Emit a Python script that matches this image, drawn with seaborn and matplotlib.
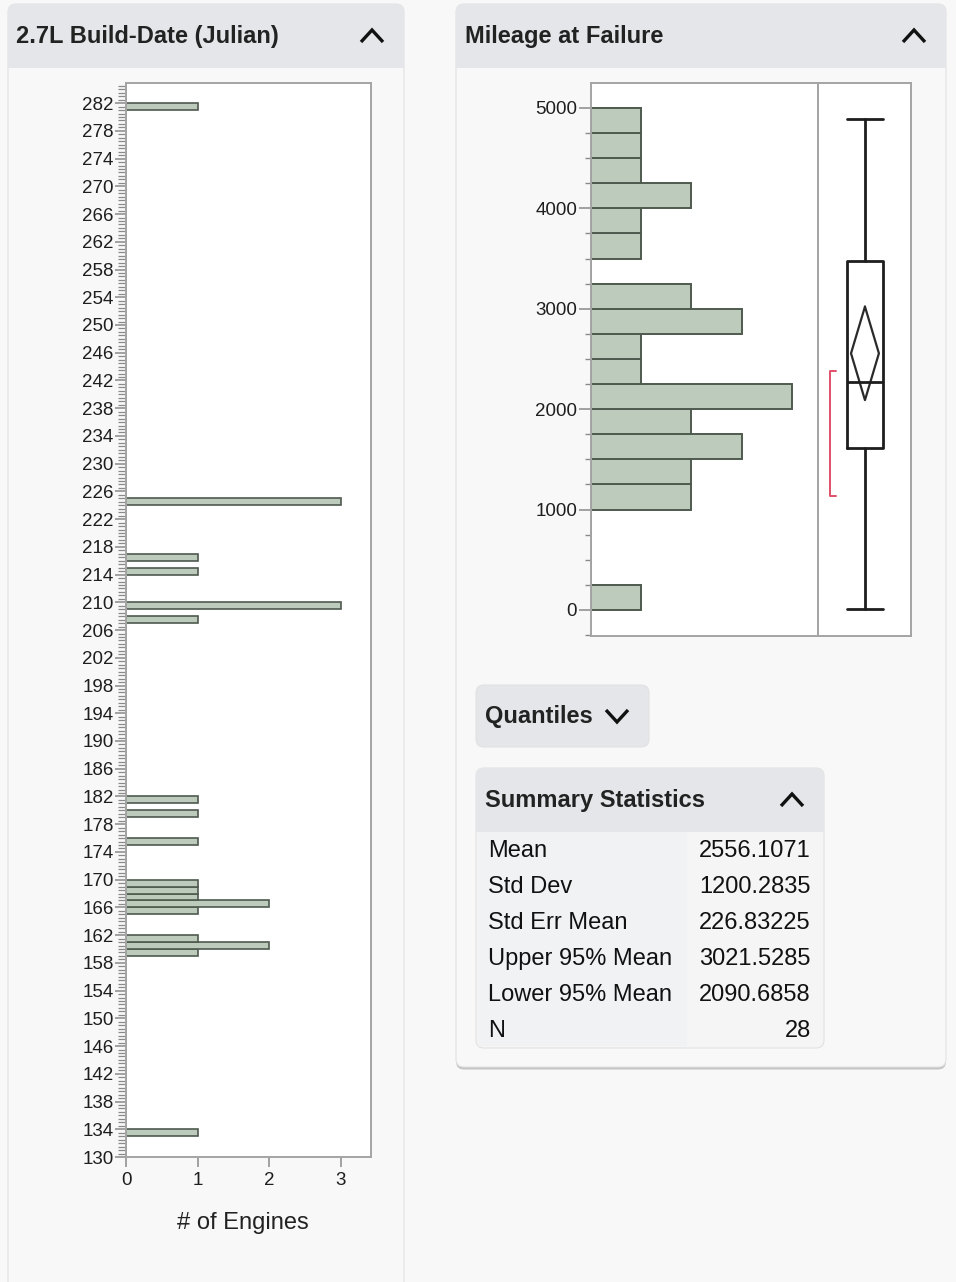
import numpy as np
import pandas as pd
import matplotlib
matplotlib.use("Agg")
import matplotlib.pyplot as plt
from matplotlib.patches import FancyBboxPatch, Rectangle
from matplotlib.ticker import MultipleLocator, FixedLocator
import seaborn as sns

# ---------------- data ----------------
build_day_start = [133, 159, 160, 161, 165, 166, 167, 168, 169, 175, 179, 181, 207, 209, 214, 216, 224, 281]
build_day_count = [1, 1, 2, 1, 1, 2, 1, 1, 1, 1, 1, 1, 1, 3, 1, 1, 3, 1]
build_ticks = list(range(130, 283, 4))

mileage_bin_start = [0, 1000, 1250, 1500, 1750, 2000, 2250, 2500, 2750, 3000, 3500, 3750, 4000, 4250, 4500, 4750]
mileage_count = [1, 2, 2, 3, 2, 4, 1, 1, 3, 2, 1, 1, 2, 1, 1, 1]
mileage_ticks = [0, 1000, 2000, 3000, 4000, 5000]

box_min, box_q1, box_median, box_q3, box_max = 5, 1616, 2273, 3473, 4890
mean_value, upper95, lower95 = 2556.1071, 3021.5285, 2090.6858
shortest_half = (1135, 2380)

stat_names = ["Mean", "Std Dev", "Std Err Mean", "Upper 95% Mean", "Lower 95% Mean", "N"]
stat_values = ["2556.1071", "1200.2835", "226.83225", "3021.5285", "2090.6858", "28"]

build_df = pd.DataFrame({"day": np.array(build_day_start, dtype=float) + 0.5,
                         "count": np.array(build_day_count, dtype=float)})
mileage_df = pd.DataFrame({"mileage": np.array(mileage_bin_start, dtype=float) + 125,
                           "count": np.array(mileage_count, dtype=float)})

# ---------------- style ----------------
sns.set_style("white")
plt.rcParams["font.family"] = ["Liberation Sans", "DejaVu Sans"]

W, H = 956, 1282
fig = plt.figure(figsize=(W / 100, H / 100), dpi=100)
fig.patch.set_facecolor("#f8f8f8")

def rect(x0, y0, x1, y1):
    return [x0 / W, 1 - y1 / H, (x1 - x0) / W, (y1 - y0) / H]

bg = fig.add_axes([0, 0, 1, 1], zorder=-10)
bg.set_xlim(0, W)
bg.set_ylim(H, 0)
bg.axis("off")

HEADER = "#e4e6e9"
BODY = "#f8f8f8"

def card(x0, y0, x1, y1, header_h=None, body=BODY, r=8, shadow=True):
    if shadow:
        bg.add_patch(FancyBboxPatch((x0, y0 + 2.5), x1 - x0, y1 - y0,
                                    boxstyle=f"round,pad=0,rounding_size={r}",
                                    fc="#c4c4c4", ec="none", zorder=1))
    bg.add_patch(FancyBboxPatch((x0, y0), x1 - x0, y1 - y0,
                                boxstyle=f"round,pad=0,rounding_size={r}",
                                fc=body, ec="#e2e2e2", lw=0.8, zorder=2))
    if header_h:
        bg.add_patch(FancyBboxPatch((x0, y0), x1 - x0, header_h,
                                    boxstyle=f"round,pad=0,rounding_size={r}",
                                    fc=HEADER, ec="none", zorder=3))
        bg.add_patch(Rectangle((x0, y0 + header_h - r - 1), x1 - x0, r + 1,
                               fc=HEADER, ec="none", zorder=3))

def chevron(cx, cy, up=True, w=11, h=6):
    s = -1 if up else 1
    bg.plot([cx - w, cx, cx + w], [cy - s * h, cy + s * h, cy - s * h],
            color="#111111", lw=2.4, solid_capstyle="butt", solid_joinstyle="miter", zorder=5)

card(8, 4, 404, 1300, header_h=64)
bg.text(16, 37, "2.7L Build-Date (Julian)", fontsize=17, fontweight="bold",
        color="#222222", va="center", ha="left", zorder=6)
chevron(372, 36, up=True)

card(456, 4, 946, 1067, header_h=64)
bg.text(465, 37, "Mileage at Failure", fontsize=17, fontweight="bold",
        color="#222222", va="center", ha="left", zorder=6)
chevron(914, 36, up=True)

card(476, 685, 649, 747, body=HEADER)
bg.text(485, 717, "Quantiles", fontsize=17, fontweight="bold",
        color="#222222", va="center", ha="left", zorder=6)
chevron(617, 716, up=False)

card(476, 768, 824, 1048, header_h=64, body="#f5f5f5")
bg.add_patch(Rectangle((478, 832), 209, 214, fc="#f1f2f3", ec="none", zorder=3))
bg.text(485, 801, "Summary Statistics", fontsize=17, fontweight="bold",
        color="#222222", va="center", ha="left", zorder=6)
chevron(792, 800, up=True)
for i, (nm, val) in enumerate(zip(stat_names, stat_values)):
    yy = 851 + 36 * i
    bg.text(488, yy, nm, fontsize=17, color="#111111", va="center", ha="left", zorder=6)
    bg.text(811, yy, val, fontsize=17, color="#111111", va="center", ha="right", zorder=6)

BAR_FC = "#bccbbb"
BAR_EC = "#4e5a4e"
SPINE = "#a4a4a4"
TICKC = "#8a8a8a"
LABC = "#1e1e1e"

def style_spines(ax):
    for sp in ax.spines.values():
        sp.set_visible(True)
        sp.set_color(SPINE)
        sp.set_linewidth(1.4)

# ---------------- left histogram ----------------
ax1 = fig.add_axes(rect(126, 83, 371, 1157))
ax1.set_facecolor("white")
sns.histplot(data=build_df, y="day", weights="count",
             bins=list(range(130, 286)), ax=ax1, color=BAR_FC,
             edgecolor=BAR_EC, linewidth=1.2, alpha=1)
ax1.set_ylim(130, 284.9)
ax1.set_xlim(0, 3.42)
ax1.yaxis.set_major_locator(FixedLocator(build_ticks))
ax1.yaxis.set_minor_locator(MultipleLocator(0.5))
ax1.xaxis.set_major_locator(FixedLocator([0, 1, 2, 3]))
ax1.tick_params(axis="y", which="major", length=8, width=1.1, color=TICKC,
                labelsize=13.5, labelcolor=LABC, pad=1, left=True)
ax1.tick_params(axis="y", which="minor", length=5.5, width=0.9, color=TICKC, left=True)
ax1.tick_params(axis="x", which="major", length=7, width=1.1, color=TICKC, bottom=True,
                labelsize=13.5, labelcolor=LABC, pad=4)
ax1.set_ylabel("")
ax1.set_xlabel("# of Engines", fontsize=17, color="#222222")
ax1.xaxis.set_label_coords(0.478, -0.0615)
ax1.xaxis.label.set_va("center")
style_spines(ax1)

# ---------------- right histogram ----------------
ax2 = fig.add_axes(rect(591, 83, 818, 636))
ax2.set_facecolor("white")
sns.histplot(data=mileage_df, y="mileage", weights="count",
             bins=list(range(0, 5001, 250)), ax=ax2, color=BAR_FC,
             edgecolor=BAR_EC, linewidth=1.4, alpha=1)
ax2.set_ylim(-259, 5249)
ax2.set_xlim(0, 4.52)
ax2.yaxis.set_major_locator(FixedLocator(mileage_ticks))
ax2.yaxis.set_minor_locator(MultipleLocator(250))
ax2.tick_params(axis="y", which="major", length=9, width=1.1, color=TICKC,
                labelsize=13.5, labelcolor=LABC, pad=1, left=True)
ax2.tick_params(axis="y", which="minor", length=4, width=1.0, color=TICKC, left=True)
ax2.tick_params(axis="x", bottom=False, labelbottom=False)
ax2.set_xlabel("")
ax2.set_ylabel("")
style_spines(ax2)

# ---------------- box plot ----------------
ax3 = fig.add_axes(rect(818, 83, 911, 636), sharey=ax2)
ax3.set_facecolor("white")
stats = [dict(med=box_median, q1=box_q1, q3=box_q3, whislo=box_min, whishi=box_max,
              mean=mean_value, fliers=[])]
lp = dict(color="#1e1e1e", linewidth=2.0)
ax3.bxp(stats, positions=[0.505], widths=0.39, capwidths=0.39,
        showmeans=False, patch_artist=False, showfliers=False,
        boxprops=lp, whiskerprops=lp, capprops=lp, medianprops=lp)
dw = 0.15
ax3.plot([0.505, 0.505 + dw, 0.505, 0.505 - dw, 0.505],
         [upper95, mean_value, lower95, mean_value, upper95],
         color="#2a2a2a", lw=1.6)
bx = 0.13
ax3.plot([bx + 0.065, bx, bx, bx + 0.065],
         [shortest_half[1], shortest_half[1], shortest_half[0], shortest_half[0]],
         color="#e0506a", lw=1.4)
ax3.set_xlim(0, 1)
ax3.tick_params(axis="both", which="both", left=False, bottom=False,
                labelleft=False, labelbottom=False)
style_spines(ax3)

fig.savefig("out.png", dpi=100, facecolor=fig.get_facecolor())
